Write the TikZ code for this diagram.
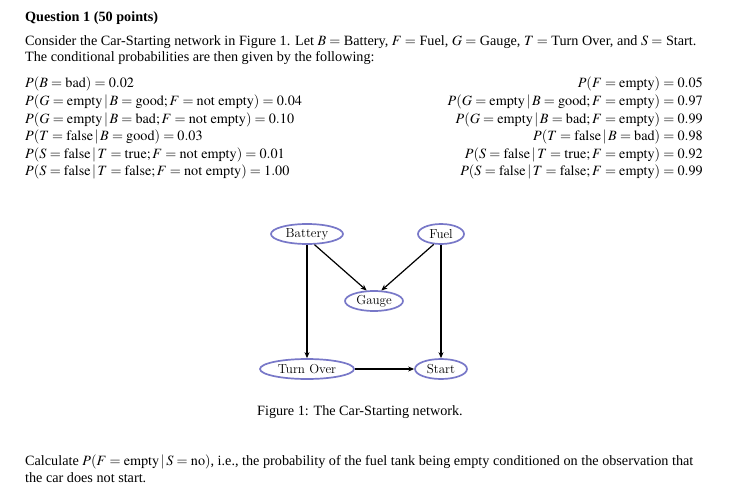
\documentclass[tikz,border=0pt]{standalone}
\usepackage{amsmath}
\usepackage{mathptmx}
\usepackage{fontspec}
\newfontfamily\tms{Liberation Serif}
\usetikzlibrary{shapes.geometric,arrows.meta}
\begin{document}
\begin{tikzpicture}[x=1pt,y=-1pt,
  txt/.style={anchor=base west,inner sep=0pt,font=\tms\fontsize{14.2}{17}\selectfont},
  rtxt/.style={anchor=base east,inner sep=0pt,font=\tms\fontsize{14.2}{17}\selectfont},
  bn/.style={ellipse,draw={rgb,255:red,120;green,120;blue,200},line width=1.7pt,inner sep=0pt,font=\fontsize{13}{15}\selectfont},
  arr/.style={-{Stealth[length=6pt,width=5pt]},line width=1.2pt}]
\useasboundingbox (0,0) rectangle (748,493);
\node[txt,font=\tms\bfseries\fontsize{14.2}{17}\selectfont] (t) at (25,21) {Question 1 (50 points)};
\node[txt] (l1) at (25,45) {Consider the Car-Starting network in Figure 1. Let $B=$ Battery, $F=$ Fuel, $G=$ Gauge, $T=$ Turn Over, and $S=$ Start.};
\node[txt] (l2) at (25,61) {The conditional probabilities are then given by the following:};
\node[txt] (a1) at (25,87) {$P(B=\mathrm{bad})=0.02$};
\node[txt] (a2) at (25,105) {$P(G=\mathrm{empty}\,|\,B=\mathrm{good};F=\mathrm{not\ empty})=0.04$};
\node[txt] (a3) at (25,123) {$P(G=\mathrm{empty}\,|\,B=\mathrm{bad};F=\mathrm{not\ empty})=0.10$};
\node[txt] (a4) at (25,140) {$P(T=\mathrm{false}\,|\,B=\mathrm{good})=0.03$};
\node[txt] (a5) at (25,158) {$P(S=\mathrm{false}\,|\,T=\mathrm{true};F=\mathrm{not\ empty})=0.01$};
\node[txt] (a6) at (25,175) {$P(S=\mathrm{false}\,|\,T=\mathrm{false};F=\mathrm{not\ empty})=1.00$};
\node[rtxt] (b1) at (703,87) {$P(F=\mathrm{empty})=0.05$};
\node[rtxt] (b2) at (703,105) {$P(G=\mathrm{empty}\,|\,B=\mathrm{good};F=\mathrm{empty})=0.97$};
\node[rtxt] (b3) at (703,123) {$P(G=\mathrm{empty}\,|\,B=\mathrm{bad};F=\mathrm{empty})=0.99$};
\node[rtxt] (b4) at (703,140) {$P(T=\mathrm{false}\,|\,B=\mathrm{bad})=0.98$};
\node[rtxt] (b5) at (703,158) {$P(S=\mathrm{false}\,|\,T=\mathrm{true};F=\mathrm{empty})=0.92$};
\node[rtxt] (b6) at (703,175) {$P(S=\mathrm{false}\,|\,T=\mathrm{false};F=\mathrm{empty})=0.99$};
\node[bn,minimum width=72pt,minimum height=20pt] (B) at (307,234) {Battery};
\node[bn,minimum width=46pt,minimum height=20pt] (F) at (441,234) {Fuel};
\node[bn,minimum width=58pt,minimum height=20pt] (G) at (374,301) {Gauge};
\node[bn,minimum width=94pt,minimum height=20pt] (T) at (307,369) {Turn Over};
\node[bn,minimum width=52pt,minimum height=20pt] (S) at (441,369) {Start};
\draw[arr] (B.south) -- (T.north);
\draw[arr] (F.south) -- (S.north);
\draw[arr] (B.-55) -- (G.125);
\draw[arr] (F.-125) -- (G.55);
\draw[arr] (T.east) -- (S.west);
\node[txt] (cap) at (257,415) {Figure 1: The Car-Starting network.};
\node[txt] (c1) at (25,465) {Calculate $P(F=\mathrm{empty}\,|\,S=\mathrm{no})$, i.e., the probability of the fuel tank being empty conditioned on the observation that};
\node[txt] (c2) at (25,482) {the car does not start.};
\end{tikzpicture}
\end{document}
